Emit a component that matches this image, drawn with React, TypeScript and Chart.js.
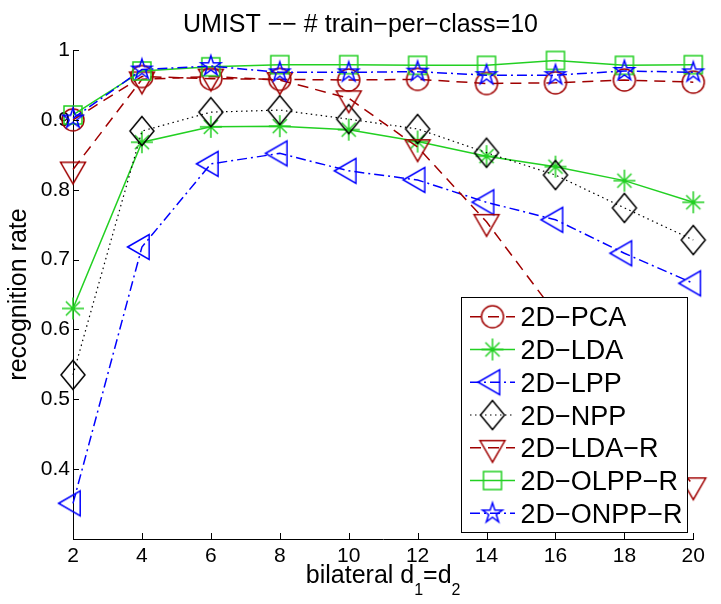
import React, { useEffect, useRef } from 'react';
import { Chart, registerables } from 'chart.js';

Chart.register(...registerables);

const FONT = "'Liberation Sans', Arial, Helvetica, sans-serif";

// ---- data ----
const dims = [2, 4, 6, 8, 10, 12, 14, 16, 18, 20];
const xTickLabels = ['2', '4', '6', '8', '10', '12', '14', '16', '18', '20'];
const yTickValues = [0.4, 0.5, 0.6, 0.7, 0.8, 0.9, 1.0];
const yTickLabels = ['0.4', '0.5', '0.6', '0.7', '0.8', '0.9', '1'];

const pca2d = [0.900, 0.962, 0.959, 0.958, 0.957, 0.958, 0.952, 0.953, 0.957, 0.954];
const lda2d = [0.630, 0.868, 0.890, 0.891, 0.886, 0.869, 0.848, 0.833, 0.813, 0.782];
const lpp2d = [0.351, 0.718, 0.837, 0.852, 0.827, 0.814, 0.782, 0.757, 0.709, 0.666];
const npp2d = [0.535, 0.884, 0.911, 0.914, 0.901, 0.887, 0.853, 0.821, 0.774, 0.728];
const ldaR2d = [0.829, 0.958, 0.962, 0.957, 0.931, 0.861, 0.754, 0.623, 0.500, 0.377];
const olppR2d = [0.907, 0.970, 0.976, 0.979, 0.979, 0.978, 0.978, 0.985, 0.978, 0.979];
const onppR2d = [0.902, 0.972, 0.977, 0.968, 0.968, 0.969, 0.964, 0.964, 0.970, 0.968];

const seriesNames = ['2D−PCA', '2D−LDA', '2D−LPP', '2D−NPP', '2D−LDA−R', '2D−OLPP−R', '2D−ONPP−R'];
const seriesValues = [pca2d, lda2d, lpp2d, npp2d, ldaR2d, olppR2d, onppR2d];

const titleText = 'UMIST −− # train−per−class=10';
const yTitleText = 'recognition rate';
const xTitleParts = [
  { text: 'bilateral d', sub: false },
  { text: '1', sub: true },
  { text: '=d', sub: false },
  { text: '2', sub: true },
];

// ---- styles ----
const RED = '#a00000';
const GREEN = '#22d022';
const BLUE = '#0000ff';
const BLACK = '#000000';
const seriesColors = [RED, GREEN, BLUE, BLACK, RED, GREEN, BLUE];
const seriesDash: number[][] = [[11, 7], [], [10, 4, 2, 4], [1.5, 3.5], [11, 7], [], [10, 4, 2, 4]];
const seriesLineWidth = [1.5, 1.5, 1.5, 1.2, 1.5, 1.5, 1.5];
const seriesMarker = ['circle', 'asterisk', 'triLeft', 'diamond', 'triDown', 'square', 'pentagram'];

function makeMarker(kind: string, color: string): HTMLCanvasElement {
  const S = 34;
  const c = document.createElement('canvas');
  c.width = S;
  c.height = S;
  const ctx = c.getContext('2d')!;
  ctx.translate(S / 2, S / 2);
  ctx.strokeStyle = color;
  ctx.lineWidth = 1.5;
  ctx.lineJoin = 'miter';
  ctx.beginPath();
  const r = 14.4;
  switch (kind) {
    case 'circle':
      ctx.arc(0, 0, 11, 0, Math.PI * 2);
      break;
    case 'asterisk':
      for (let k = 0; k < 8; k++) {
        const ang = (k * Math.PI) / 4;
        const len = k % 2 === 0 ? 11 : 10;
        ctx.moveTo(0, 0);
        ctx.lineTo(Math.cos(ang) * len, Math.sin(ang) * len);
      }
      break;
    case 'triLeft':
      ctx.moveTo(-r, 0);
      ctx.lineTo(r / 2, -r * 0.866);
      ctx.lineTo(r / 2, r * 0.866);
      ctx.closePath();
      break;
    case 'triDown':
      ctx.moveTo(0, r);
      ctx.lineTo(-r * 0.866, -r / 2);
      ctx.lineTo(r * 0.866, -r / 2);
      ctx.closePath();
      break;
    case 'diamond':
      ctx.moveTo(0, -14.5);
      ctx.lineTo(12, 0);
      ctx.lineTo(0, 14.5);
      ctx.lineTo(-12, 0);
      ctx.closePath();
      break;
    case 'square':
      ctx.rect(-9, -9, 18, 18);
      break;
    case 'pentagram': {
      const R = 10.5;
      const ri = R * 0.382;
      for (let k = 0; k < 10; k++) {
        const ang = -Math.PI / 2 + (k * Math.PI) / 5;
        const rr = k % 2 === 0 ? R : ri;
        const px = Math.cos(ang) * rr;
        const py = Math.sin(ang) * rr;
        if (k === 0) ctx.moveTo(px, py);
        else ctx.lineTo(px, py);
      }
      ctx.closePath();
      break;
    }
  }
  ctx.stroke();
  return c;
}

export default function App() {
  const ref = useRef<HTMLCanvasElement | null>(null);

  useEffect(() => {
    if (!ref.current) return;
    const markers = seriesMarker.map((m, i) => makeMarker(m, seriesColors[i]));
    const n = seriesNames.length;

    const datasets = seriesNames.map((name, i) => ({
      label: name,
      data: dims.map((d, j) => ({ x: d, y: seriesValues[i][j] })),
      borderColor: seriesColors[i],
      backgroundColor: seriesColors[i],
      borderWidth: seriesLineWidth[i],
      borderDash: seriesDash[i],
      fill: false,
      tension: 0,
      pointStyle: markers[i],
      pointRadius: 10,
      pointHoverRadius: 10,
      clip: false as any,
      order: n - i,
    }));

    const decor = {
      id: 'decor',
      afterDraw(chart: any) {
        const ctx = chart.ctx as CanvasRenderingContext2D;
        const a = chart.chartArea;
        const xs = chart.scales.x;
        const ys = chart.scales.y;
        ctx.save();
        // inward ticks
        ctx.setLineDash([]);
        ctx.strokeStyle = '#000';
        ctx.lineWidth = 1;
        ctx.beginPath();
        dims.forEach((v) => {
          const px = Math.round(xs.getPixelForValue(v)) + 0.5;
          ctx.moveTo(px, a.bottom);
          ctx.lineTo(px, a.bottom - 6);
        });
        yTickValues.forEach((v) => {
          const py = Math.round(ys.getPixelForValue(v)) + 0.5;
          ctx.moveTo(a.left, py);
          ctx.lineTo(a.left + 6, py);
        });
        ctx.stroke();

        // title
        ctx.fillStyle = '#000';
        ctx.font = `25px ${FONT}`;
        ctx.textAlign = 'center';
        ctx.textBaseline = 'alphabetic';
        ctx.fillText(titleText, chart.width / 2, 32);

        // y title
        ctx.save();
        ctx.translate(25.5, (a.top + a.bottom) / 2);
        ctx.rotate(-Math.PI / 2);
        ctx.fillText(yTitleText, 0, 0);
        ctx.restore();

        // x title with subscripts
        const mainFont = `25px ${FONT}`;
        const subFont = `16px ${FONT}`;
        let total = 0;
        const widths = xTitleParts.map((p) => {
          ctx.font = p.sub ? subFont : mainFont;
          const w = ctx.measureText(p.text).width;
          total += w;
          return w;
        });
        let cx = (a.left + a.right) / 2 - total / 2;
        ctx.textAlign = 'left';
        xTitleParts.forEach((p, i) => {
          ctx.font = p.sub ? subFont : mainFont;
          ctx.fillText(p.text, cx, p.sub ? 595 : 583);
          cx += widths[i];
        });

        // legend
        const lw = 226;
        const lh = 235;
        const lx = a.right - 6.3 - lw;
        const ly = a.bottom - 7 - lh;
        ctx.fillStyle = '#fff';
        ctx.fillRect(lx, ly, lw, lh);
        ctx.strokeStyle = '#000';
        ctx.lineWidth = 1;
        ctx.strokeRect(Math.round(lx) + 0.5, Math.round(ly) + 0.5, lw, lh);
        ctx.font = `27px ${FONT}`;
        ctx.textAlign = 'left';
        ctx.textBaseline = 'alphabetic';
        seriesNames.forEach((name, i) => {
          const cy = ly + 19.7 + i * 32.77;
          ctx.beginPath();
          ctx.strokeStyle = seriesColors[i];
          ctx.lineWidth = seriesLineWidth[i];
          ctx.setLineDash(seriesDash[i]);
          ctx.moveTo(lx + 9, cy);
          ctx.lineTo(lx + 54, cy);
          ctx.stroke();
          ctx.setLineDash([]);
          const m = markers[i];
          ctx.drawImage(m, lx + 31.5 - m.width / 2, cy - m.height / 2);
          ctx.fillStyle = '#000';
          ctx.fillText(name, lx + 59.5, cy + 9.6);
        });
        ctx.restore();
      },
    };

    const chart = new Chart(ref.current, {
      type: 'line',
      data: { datasets: datasets as any },
      options: {
        animation: false,
        responsive: false,
        maintainAspectRatio: false,
        layout: { padding: { top: 50, right: 27.7, left: 0, bottom: 0 } },
        plugins: {
          legend: { display: false },
          tooltip: { enabled: false },
          title: { display: false },
        },
        scales: {
          x: {
            type: 'linear',
            min: 2,
            max: 20,
            afterBuildTicks: (scale: any) => {
              scale.ticks = dims.map((v) => ({ value: v }));
            },
            afterFit: (scale: any) => {
              scale.height = 65;
            },
            grid: { display: false, drawTicks: false },
            border: { display: true, color: '#000', width: 1 },
            ticks: {
              autoSkip: false,
              maxRotation: 0,
              padding: 5,
              color: '#000',
              font: { family: FONT, size: 21 },
              callback: (_v: any, idx: number) => xTickLabels[idx],
            },
          },
          y: {
            type: 'linear',
            min: 0.3,
            max: 1.0,
            afterBuildTicks: (scale: any) => {
              scale.ticks = yTickValues.map((v) => ({ value: v }));
            },
            afterFit: (scale: any) => {
              scale.width = 73;
            },
            grid: { display: false, drawTicks: false },
            border: { display: true, color: '#000', width: 1 },
            ticks: {
              autoSkip: false,
              padding: 3,
              color: '#000',
              font: { family: FONT, size: 21 },
              callback: (_v: any, idx: number) => yTickLabels[idx],
            },
          },
        },
      },
      plugins: [decor],
    });
    return () => chart.destroy();
  }, []);

  return (
    <div style={{ position: 'fixed', left: 0, top: 0, width: 721, height: 604, background: '#fff' }}>
      <canvas ref={ref} width={721} height={604} style={{ width: 721, height: 604, display: 'block' }} />
    </div>
  );
}
